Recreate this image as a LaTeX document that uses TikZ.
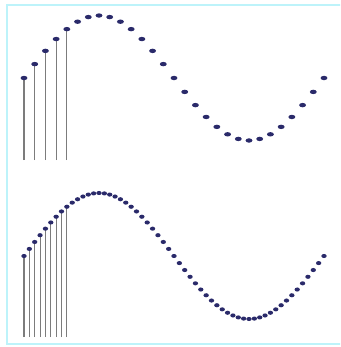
\documentclass[tikz,border=0pt]{standalone}
\usetikzlibrary{shapes.geometric}
\definecolor{framecyan}{HTML}{BDF3FA}
\definecolor{dotnavy}{HTML}{2A2A6A}
\definecolor{stemgray}{HTML}{7C7C7C}
\tikzset{
  bigdot/.style={ellipse, fill=dotnavy, inner sep=0pt, minimum width=5.2pt, minimum height=3.3pt},
  smalldot/.style={ellipse, fill=dotnavy, inner sep=0pt, minimum width=4.0pt, minimum height=3.1pt},
  stem/.style={draw=stemgray, line width=0.8pt},
  framebox/.style={draw=framecyan, line width=1.5pt}
}
\begin{document}
\begin{tikzpicture}[x=0.75pt, y=-0.75pt]
\useasboundingbox (0,0) rectangle (340,347);
\begin{scope}
\clip (0,0) rectangle (340,347);
\draw[framebox] (7,5) rectangle (350,344);
\end{scope}
% top curve
\foreach \k in {0,...,28}{
  \coordinate (t\k) at ({24+(300/28)*\k},{78-62.5*sin((360/28)*\k)});
}
\foreach \k in {0,...,4}{
  \coordinate (tf\k) at ({24+(300/28)*\k},160);
  \draw[stem] (tf\k) -- (t\k);
}
\foreach \k in {0,...,28}{
  \node[bigdot] (td\k) at (t\k) {};
}
% bottom curve
\foreach \k in {0,...,56}{
  \coordinate (b\k) at ({24+(300/56)*\k},{256-63*sin((360/56)*\k)});
}
\foreach \k in {0,...,8}{
  \coordinate (bf\k) at ({24+(300/56)*\k},337);
  \draw[stem] (bf\k) -- (b\k);
}
\foreach \k in {0,...,56}{
  \node[smalldot] (bd\k) at (b\k) {};
}
\end{tikzpicture}
\end{document}
